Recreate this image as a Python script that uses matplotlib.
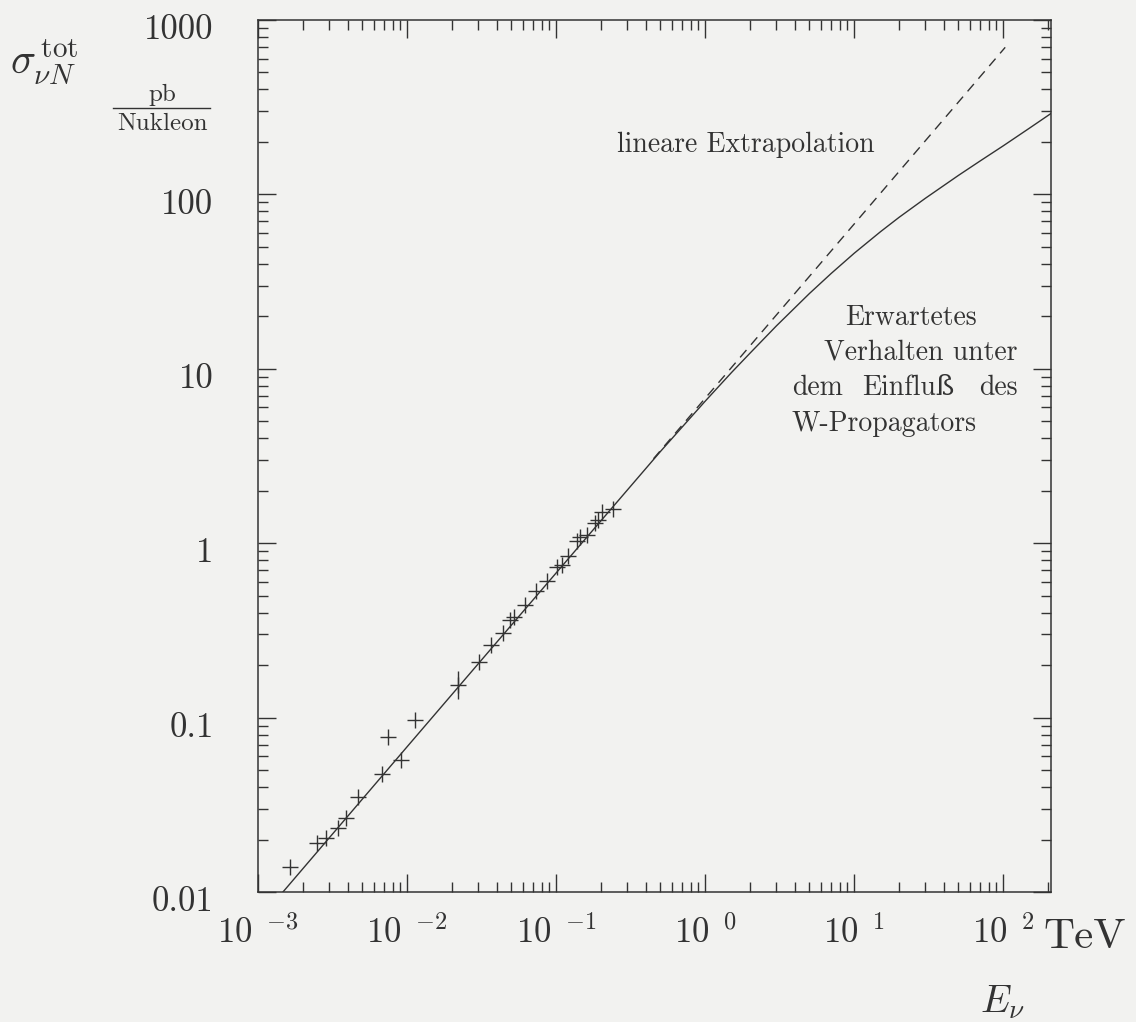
import numpy as np
import matplotlib
matplotlib.use("Agg")
import matplotlib.pyplot as plt
import matplotlib.transforms as mtransforms
from matplotlib.ticker import LogLocator, NullFormatter

plt.rcParams['font.family'] = ['cmr10', 'DejaVu Serif']
plt.rcParams['mathtext.fontset'] = 'cm'
plt.rcParams['axes.unicode_minus'] = False

e_data = [1.64e-3, 2.49e-3, 2.86e-3, 3.44e-3, 3.90e-3, 4.69e-3, 6.79e-3, 7.45e-3,
          9.12e-3, 0.0113, 0.0220, 0.0304, 0.0366, 0.0441, 0.0491, 0.0522, 0.0619,
          0.0734, 0.0871, 0.1016, 0.1097, 0.1205, 0.1384, 0.145, 0.161, 0.183,
          0.191, 0.204, 0.242]
s_data = [0.0139, 0.0190, 0.0204, 0.0232, 0.0265, 0.0349, 0.0478, 0.0769,
          0.0568, 0.0974, 0.154, 0.209, 0.261, 0.306, 0.363, 0.378, 0.442,
          0.532, 0.607, 0.730, 0.748, 0.843, 1.03, 1.08, 1.11, 1.30,
          1.35, 1.50, 1.58]
# the one point with a long error bar
e_big = [0.0220]
s_big = [0.154]
s_big_err = [[0.027], [0.032]]

# expected behaviour with W propagator
e_curve = [1.47e-3, 0.01, 0.1, 0.5, 1, 1.5, 2, 3, 5, 7, 10, 15, 20, 30,
           50, 70, 100, 150, 210]
s_curve = [0.01, 0.068, 0.675, 3.35, 6.52, 9.51, 12.3, 17.6, 27.0, 35.2, 46.0,
           61.1, 73.9, 95.0, 128.5, 155.6, 190, 240, 292]

# linear extrapolation
e_lin = [0.45, 103]
s_lin = [3.05, 697]

yticks = [0.01, 0.1, 1, 10, 100, 1000]
ylabels = ['0.01', '0.1', '1', '10', '100', '1000']
xticks = [1e-3, 1e-2, 1e-1, 1e0, 1e1, 1e2]
xlabels = [r'$10\;\,{}^{-3}$', r'$10\;\,{}^{-2}$', r'$10\;\,{}^{-1}$',
           r'$10\;\,{}^{0}$', r'$10\;\,{}^{1}$', r'$10\;\,{}^{2}$']

ink = '#333333'
bg = '#f2f2f0'

fig = plt.figure(figsize=(11.36, 10.22), dpi=100, facecolor=bg)

ax = fig.add_axes([258 / 1136, 1 - 892 / 1022, (1051 - 258) / 1136, (892 - 20) / 1022])
ax.set_facecolor('none')
ax.set_xscale('log')
ax.set_yscale('log')
ax.set_xlim(1e-3, 10 ** 2.32)
ax.set_ylim(0.01, 1000)

ax.plot(e_curve, s_curve, color=ink, lw=1.0)
ax.plot(e_lin, s_lin, color=ink, lw=1.0, linestyle=(0, (7, 5)))
ax.plot(e_data, s_data, linestyle='none', marker='+', markersize=11,
        markeredgewidth=1.0, color=ink)
ax.errorbar(e_big, s_big, yerr=s_big_err, fmt='none', ecolor=ink, elinewidth=1.0)

for sp in ax.spines.values():
    sp.set_color(ink)
    sp.set_linewidth(1.1)

ax.set_xticks(xticks)
ax.set_xticklabels(xlabels)
ax.set_yticks(yticks)
ax.set_yticklabels(ylabels)
ax.xaxis.set_minor_locator(LogLocator(base=10, subs=np.arange(2, 10), numticks=20))
ax.yaxis.set_minor_locator(LogLocator(base=10, subs=np.arange(2, 10), numticks=20))
ax.xaxis.set_minor_formatter(NullFormatter())
ax.yaxis.set_minor_formatter(NullFormatter())
ax.tick_params(which='both', direction='in', top=True, right=True, color=ink,
               width=1.0, labelcolor=ink)
ax.tick_params(which='major', length=13)
ax.tick_params(which='minor', length=7.5)
ax.tick_params(axis='x', which='major', pad=17, labelsize=25)
ax.tick_params(axis='y', which='major', pad=32, labelsize=25)

# y labels sit a few pixels below their ticks in the original
shift = mtransforms.ScaledTranslation(0, -5 / 72, fig.dpi_scale_trans)
for lbl in ax.get_yticklabels():
    lbl.set_transform(lbl.get_transform() + shift)

# axis titles
fig.text(10 / 1136, 1 - 62 / 1022, r'$\sigma^{\,\mathrm{tot}}_{\nu N}$', fontsize=30,
         color=ink, va='center', ha='left')
fig.text(162 / 1136, 1 - 95 / 1022, 'pb', fontsize=18, color=ink, ha='center', va='center')
fig.add_artist(plt.Line2D([113 / 1136, 210 / 1136], [1 - 108 / 1022, 1 - 108 / 1022],
                          color=ink, lw=1.0))
fig.text(162 / 1136, 1 - 124 / 1022, 'Nukleon', fontsize=18, color=ink, ha='center', va='center')
fig.text(1043 / 1136, 1 - 937 / 1022, 'TeV', fontsize=31, color=ink, ha='left', va='center')
fig.text(980 / 1136, 1 - 1002 / 1022, r'$E_\nu$', fontsize=28, color=ink, ha='left', va='center')

# annotations
fig.text(617 / 1136, 1 - 145 / 1022, 'lineare Extrapolation', fontsize=20, color=ink,
         ha='left', va='center')
fs = 20
fig.text(911 / 1136, 1 - 318 / 1022, 'Erwartetes', fontsize=fs, color=ink, ha='center', va='center')
fig.text(1018 / 1136, 1 - 352 / 1022, 'Verhalten unter', fontsize=fs, color=ink, ha='right', va='center')
fig.text(792 / 1136, 1 - 388 / 1022, 'dem', fontsize=fs, color=ink, ha='left', va='center')
fig.text(908 / 1136, 1 - 388 / 1022, 'Einfluß', fontsize=fs, color=ink, ha='center', va='center')
fig.text(1018 / 1136, 1 - 388 / 1022, 'des', fontsize=fs, color=ink, ha='right', va='center')
fig.text(792 / 1136, 1 - 424 / 1022, 'W-Propagators', fontsize=fs, color=ink, ha='left', va='center')

fig.savefig('out.png', dpi=100, facecolor=bg)
